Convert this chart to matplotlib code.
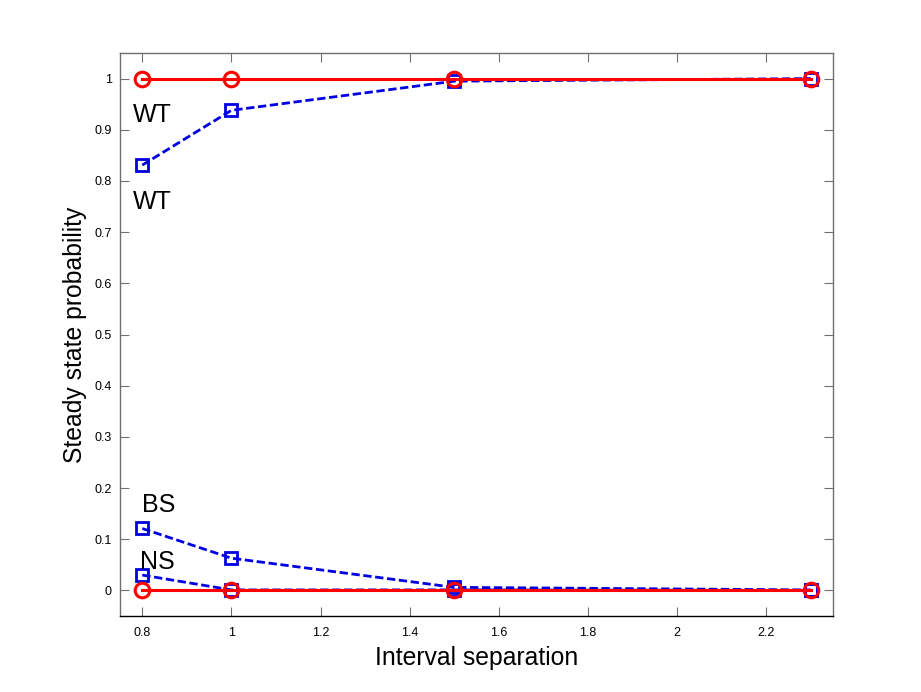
import numpy as np
import matplotlib
matplotlib.use("Agg")
import matplotlib.pyplot as plt

plt.rcParams['font.family'] = ['Liberation Sans', 'DejaVu Sans']

# interval separations
sep = [0.8, 1.0, 1.5, 2.3]

# red (solid, circles)
red_top = [1.0, 1.0, 1.0, 1.0]
red_bot = [0.0, 0.0, 0.0, 0.0]

# blue (dashed, squares)
wt = [0.831, 0.938, 0.995, 1.0]
bs = [0.121, 0.063, 0.006, 0.001]
ns = [0.030, 0.001, 0.001, 0.0]

# annotations (label, x, y)
labels = [("WT", 0.78, 0.928), ("WT", 0.78, 0.759),
          ("BS", 0.80, 0.167), ("NS", 0.795, 0.056)]

fig = plt.figure(figsize=(9.21, 6.92), dpi=100)
ax = fig.add_axes([0.1303, 0.1098, 0.7742, 0.8136])

blue = '#0000e0'
red = '#ff0000'
for y in (wt, bs, ns):
    ax.plot(sep, y, ls='--', dashes=(3, 1.3), color=blue, lw=2.0,
            marker='s', ms=8.5, mfc='none', mec=blue, mew=2.0)
for y in (red_top, red_bot):
    ax.plot(sep, y, ls='-', color=red, lw=2.2,
            marker='o', ms=10.5, mfc='none', mec=red, mew=2.2)

for txt, x, y in labels:
    ax.text(x, y, txt, fontsize=18, ha='left', va='center')

ax.set_xlim(0.75, 2.35)
ax.set_ylim(-0.05, 1.05)
ax.set_xticks([0.8, 1, 1.2, 1.4, 1.6, 1.8, 2, 2.2])
ax.set_xticklabels(['0.8', '1', '1.2', '1.4', '1.6', '1.8', '2', '2.2'])
ax.set_yticks(np.round(np.arange(0, 1.01, 0.1), 1))
ax.set_yticklabels(['0'] + ['%.1f' % v for v in np.arange(0.1, 0.95, 0.1)] + ['1'])

ax.tick_params(direction='in', length=6.5, width=0.8, color='#707070',
               labelsize=9, top=True, right=True)
ax.tick_params(axis='x', pad=8)
ax.tick_params(axis='y', pad=6)
for s in ('left', 'top', 'right'):
    ax.spines[s].set_color('#707070')
ax.spines['bottom'].set_color('black')
for s in ax.spines.values():
    s.set_linewidth(1.0)

ax.set_xlabel('Interval separation', fontsize=17.8, labelpad=5)
ax.set_ylabel('Steady state probability', fontsize=17.8, labelpad=5)

fig.savefig('out.png', dpi=100)
